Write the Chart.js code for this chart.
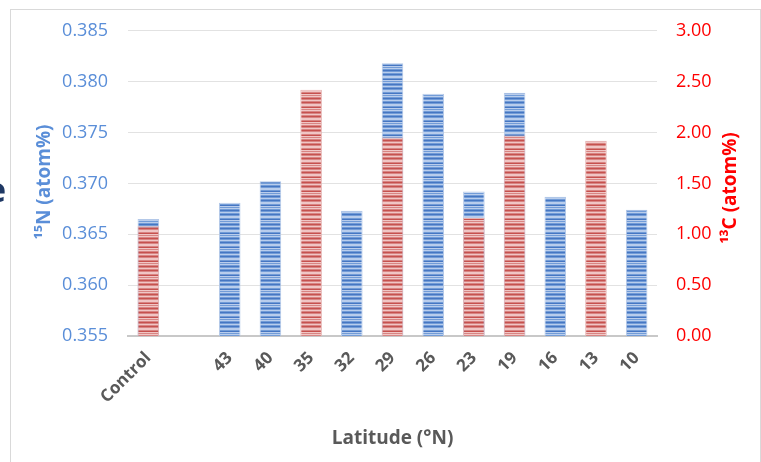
<!DOCTYPE html>
<html>
<head>
<meta charset="utf-8">
<script src="https://cdn.jsdelivr.net/npm/chart.js@4.4.1/dist/chart.umd.min.js"></script>
<style>
  html, body { margin: 0; padding: 0; background: #fff; overflow: hidden; }
  #wrap { position: relative; width: 761px; height: 462px; }
  #frame { position: absolute; left: 10px; top: 9px; width: 751px; height: 470px; border: 1px solid #d9d9d9; border-bottom: none; box-sizing: border-box; pointer-events: none; }
  #cut { position: absolute; left: -14px; top: 166px; font: bold 34px "Open Sans", sans-serif; color: #1f3864; }
  canvas { position: absolute; left: 0; top: 0; }
</style>
</head>
<body>
<div id="wrap">
  <canvas id="chart" width="761" height="462"></canvas>
  <div id="frame"></div>
  <span id="cut">e</span>
</div>
<script>
// data
const labels = ["Control", "", "43", "40", "35", "32", "29", "26", "23", "19", "16", "13", "10"];
const n15 = [0.3665, null, 0.3681, 0.3702, null, 0.3673, 0.3818, 0.3788, 0.3692, 0.3789, 0.3687, null, 0.3674];
const c13 = [1.08, null, null, null, 2.42, null, 1.95, null, 1.16, 1.97, null, 1.92, null];

const BLUE = "#5a8ed8";
const RED = "#ff0000";
const GREY = "#595959";
const FONT = "'Open Sans', sans-serif";

// horizontal stripe fill like the excel pattern
function stripes(d, m, l) {
    const p = document.createElement("canvas");
    p.width = 4;
    p.height = 14;
    const g = p.getContext("2d");
    const rows = [d, m, l, m, d, m, l, l, m, d, l, m, l, m];
    rows.forEach((col, i) => {
        g.fillStyle = col;
        g.fillRect(0, i, 4, 1);
    });
    return g.createPattern(p, "repeat");
}

// both axis titles read bottom to top
const sideTitles = {
    id: "sideTitles",
    afterDraw(chart) {
        const c = chart.ctx;
        const draw = (txt, x, y, col) => {
            c.save();
            c.translate(x, y);
            c.rotate(-Math.PI / 2);
            c.font = "bold 19px " + FONT;
            c.fillStyle = col;
            c.textAlign = "center";
            c.textBaseline = "middle";
            c.fillText(txt, 0, 0);
            c.restore();
        };
        draw("¹⁵N (atom%)", 45, 182, BLUE);
        draw("¹³C (atom%)", 731, 188, RED);
    }
};

const ctx = document.getElementById("chart").getContext("2d");

new Chart(ctx, {
    type: "bar",
    data: {
        labels: labels,
        datasets: [
            {
                label: "13C",
                data: c13,
                yAxisID: "y1",
                backgroundColor: stripes("#c6514e", "#d88583", "#f0c6c5"),
                borderColor: "#e6b3b2",
                borderWidth: { top: 1, left: 1, right: 1, bottom: 0 },
                order: 0,
            },
            {
                label: "15N",
                data: n15,
                yAxisID: "y",
                backgroundColor: stripes("#4676c2", "#729cd7", "#b9cdec"),
                borderColor: "#b3c8e8",
                borderWidth: { top: 1, left: 1, right: 1, bottom: 0 },
                order: 1,
            },
        ],
    },
    options: {
        responsive: false,
        animation: false,
        grouped: false,
        categoryPercentage: 1,
        barPercentage: 0.53,
        layout: { padding: { top: 30, left: 0, right: 0, bottom: 0 } },
        plugins: {
            legend: { display: false },
            tooltip: { enabled: false },
        },
        scales: {
            x: {
                grid: { display: false },
                border: { display: true, color: "#c8c8c8", width: 2 },
                ticks: {
                    color: GREY,
                    font: { family: FONT, size: 17, weight: "bold" },
                    maxRotation: 45,
                    minRotation: 45,
                    autoSkip: false,
                    padding: 4,
                },
                title: {
                    display: true,
                    text: "Latitude (°N)",
                    color: GREY,
                    font: { family: FONT, size: 19, weight: "bold" },
                    padding: { top: 0, bottom: 12 },
                },
                afterFit(scale) { scale.height = 126; },
            },
            y: {
                position: "left",
                min: 0.355,
                max: 0.385,
                grid: { color: "#e2e2e2", drawTicks: false },
                border: { display: false },
                ticks: {
                    stepSize: 0.005,
                    color: BLUE,
                    padding: 20,
                    font: { family: FONT, size: 18 },
                    callback: (v) => v.toFixed(3),
                },
                afterFit(scale) { scale.width = 128; },
            },
            y1: {
                position: "right",
                min: 0,
                max: 3,
                grid: { display: false, drawTicks: false },
                border: { display: false },
                ticks: {
                    stepSize: 0.5,
                    color: RED,
                    padding: 19,
                    font: { family: FONT, size: 18 },
                    callback: (v) => v.toFixed(2),
                },
                afterFit(scale) { scale.width = 104; },
            },
        },
    },
    plugins: [sideTitles],
});
</script>
</body>
</html>
